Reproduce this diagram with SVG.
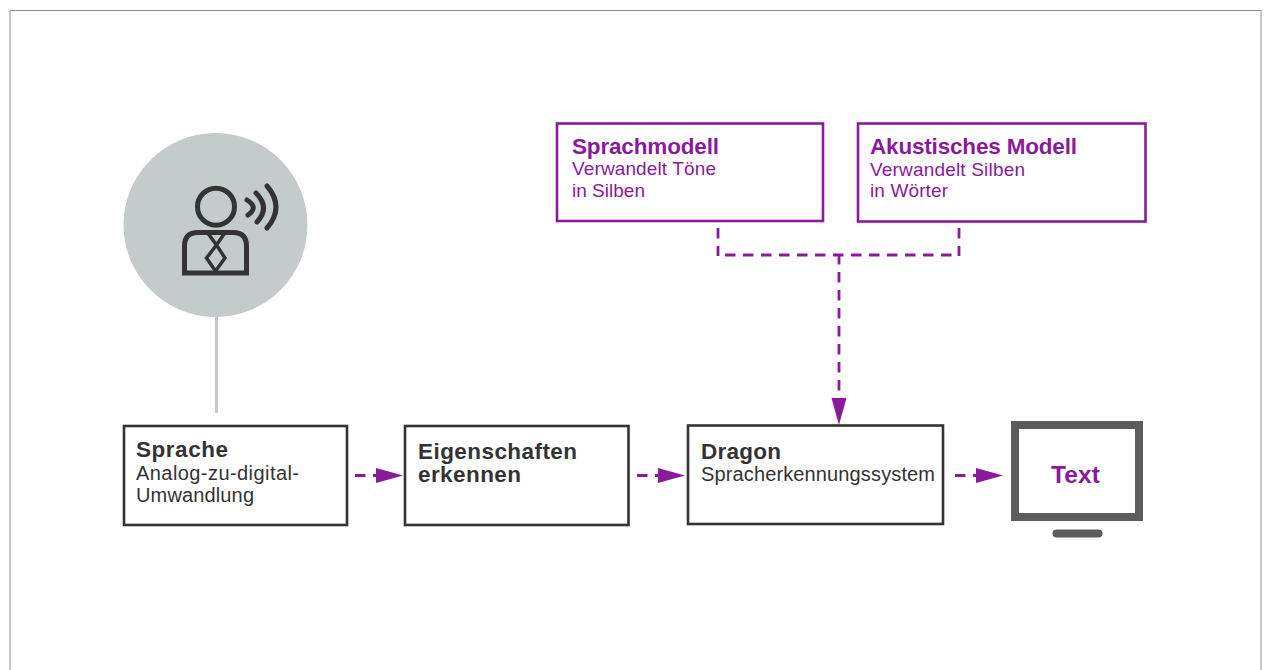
<svg xmlns="http://www.w3.org/2000/svg" width="1265" height="670" viewBox="0 0 1265 670">
<defs>
<style>
text{font-family:"Liberation Sans",Arial,sans-serif}
.t{font-size:22.500px;font-weight:700}
.b{font-size:19px}
.bd{font-size:20px}
.d{fill:#333}
.p{fill:#8a1a9b}
.bx{fill:#fff;stroke:#333;stroke-width:2.6}
.bp{fill:#fff;stroke:#8a1a9b;stroke-width:2.6}
.c{fill:none;stroke:#8a1a9b;stroke-width:2.8;stroke-dasharray:10.500 7.500}
.i{fill:none;stroke:#333;stroke-width:5}
</style>
<marker id="a" markerUnits="userSpaceOnUse" markerWidth="28" markerHeight="18" refX="0" refY="9" orient="auto"><path d="M0 1.500L27 9L0 16.500Z" fill="#8a1a9b"/></marker>
</defs>
<rect x="10" y="10.500" width="1251" height="670" fill="#fff" stroke="#8c8c8c" stroke-width="1"/>
<g id="connectors">
<path d="M216.500 316V413" fill="none" stroke="#c6c6c6" stroke-width="3"/>
<path class="c" d="M718 228V256"/>
<path class="c" d="M959 228V256"/>
<path class="c" d="M725 255H957"/>
<path class="c" d="M839 254V398" marker-end="url(#a)"/>
<path class="c" d="M355 475.500H376" marker-end="url(#a)"/>
<path class="c" d="M637 475.500H658" marker-end="url(#a)"/>
<path class="c" d="M955 475.500H976" marker-end="url(#a)"/>
</g>
<g id="speaker">
<circle cx="215.500" cy="225" r="92" fill="#c3cbcb"/>
<circle class="i" cx="216" cy="206.700" r="18.500"/>
<path class="i" d="M184.500 273V246Q184.500 232.500 198 232.500H233Q246.500 232.500 246.500 246V273Z"/>
<path d="M207 232L216.500 245L225.500 232M216.500 245L206.500 258L215.500 271L225 258Z" fill="none" stroke="#333" stroke-width="3.500"/>
<path d="M247 200Q259 207.500 248 215M256 193Q270.500 207.500 257 222M267 186Q285 207 267 228" fill="none" stroke="#333" stroke-width="5" stroke-linecap="round"/>
</g>
<g id="sprache">
<rect class="bx" x="124" y="426" width="223" height="99"/>
<text class="t d" x="136" y="457" textLength="92">Sprache</text>
<text class="bd d" x="136" y="480" textLength="163">Analog-zu-digital-</text>
<text class="bd d" x="136" y="502" textLength="118">Umwandlung</text>
</g>
<g id="eigenschaften">
<rect class="bx" x="405" y="426" width="223.500" height="99"/>
<text class="t d" x="418" y="459" textLength="159">Eigenschaften</text>
<text class="t d" x="418" y="482" textLength="103">erkennen</text>
</g>
<g id="dragon">
<rect class="bx" x="688" y="425.500" width="255" height="98.500"/>
<text class="t d" x="701" y="459" textLength="80">Dragon</text>
<text class="bd d" x="701" y="481" textLength="234">Spracherkennungssystem</text>
</g>
<g id="monitor">
<rect x="1015" y="425" width="124" height="92" fill="#fff" stroke="#5c5c5c" stroke-width="8"/>
<rect x="1052.500" y="529.500" width="50" height="8" rx="4" fill="#5c5c5c"/>
<text class="p" x="1051" y="483" textLength="49" style="font-size:24.500px;font-weight:700">Text</text>
</g>
<g id="sprachmodell">
<rect class="bp" x="557" y="123.500" width="266" height="97.500"/>
<text class="t p" x="572" y="154" textLength="147">Sprachmodell</text>
<text class="b p" x="572" y="175" textLength="144">Verwandelt Töne</text>
<text class="b p" x="572" y="197" textLength="73">in Silben</text>
</g>
<g id="akustisches-modell">
<rect class="bp" x="858" y="123.500" width="287.500" height="98"/>
<text class="t p" x="870" y="154" textLength="207">Akustisches Modell</text>
<text class="b p" x="870" y="176" textLength="155">Verwandelt Silben</text>
<text class="b p" x="870" y="197" textLength="78">in Wörter</text>
</g>
</svg>
